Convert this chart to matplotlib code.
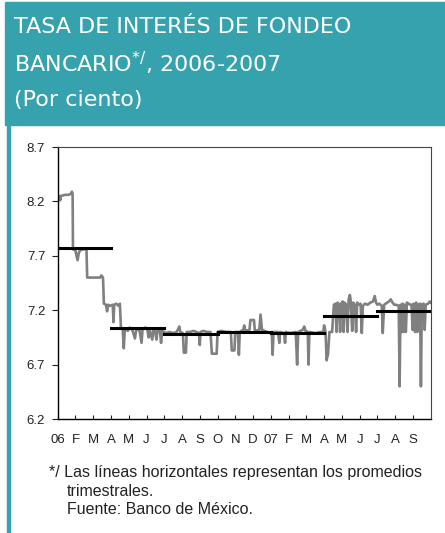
import matplotlib
matplotlib.use("Agg")
import matplotlib.pyplot as plt
from matplotlib.patches import Rectangle

plt.rcParams['font.family'] = ['Liberation Sans', 'DejaVu Sans']

# Daily funding rate path (x in months since Jan 2006, y in percent)
months = [
    0.00, 0.10, 0.14, 0.18, 0.40, 0.60, 0.75, 0.80, 0.84, 0.86,
    1.00, 1.06, 1.12, 1.18, 1.25, 1.45, 1.62, 1.66,
    2.00, 2.40, 2.46, 2.55, 2.60, 2.72, 2.78, 2.84, 2.95, 3.10, 3.14, 3.18,
    3.30, 3.42, 3.50, 3.56,
    3.66, 3.72, 3.78, 3.95, 4.05, 4.20, 4.35, 4.42, 4.60, 4.72, 4.78, 4.95,
    5.05, 5.12, 5.20, 5.32, 5.40, 5.50, 5.56, 5.62, 5.75, 5.82, 5.88, 6.00,
    6.10, 6.30, 6.50, 6.70, 6.85, 6.90, 7.05, 7.10, 7.22, 7.26, 7.45, 7.65,
    7.80, 7.95, 8.00, 8.04, 8.20, 8.40, 8.60, 8.68, 8.95, 9.00,
    9.20, 9.50, 9.75, 9.80, 9.95, 10.00, 10.15, 10.20, 10.25, 10.45, 10.50,
    10.55, 10.80, 10.85, 11.05, 11.10, 11.35, 11.42, 11.50, 11.80, 12.00,
    12.05, 12.10, 12.15, 12.40, 12.48, 12.52, 12.75, 12.80, 12.84, 13.10,
    13.40, 13.48, 13.54, 13.80, 13.88, 13.95, 14.08, 14.12, 14.17, 14.50,
    14.80, 14.95, 15.00, 15.08, 15.14, 15.22, 15.30, 15.45, 15.55,
    15.65, 15.70, 15.76, 15.85, 15.90, 15.95, 16.05, 16.10, 16.15, 16.25,
    16.32, 16.38, 16.45, 16.50, 16.58, 16.64, 16.72, 16.80, 16.86, 16.95,
    17.05, 17.12, 17.18, 17.30, 17.45, 17.60, 17.75, 17.85, 17.92, 18.00,
    18.10, 18.25, 18.30, 18.38, 18.55, 18.65, 18.75, 18.85, 18.95, 19.05,
    19.20, 19.25, 19.30, 19.36, 19.42, 19.48, 19.54, 19.60, 19.66, 19.75,
    19.85, 19.92, 19.98, 20.04, 20.12, 20.18, 20.25, 20.30, 20.40, 20.45,
    20.50, 20.60, 20.66, 20.72, 20.85, 20.95, 21.00,
]
rates = [
    8.25, 8.25, 8.21, 8.25, 8.26, 8.26, 8.27, 8.29, 8.27, 7.76,
    7.75, 7.70, 7.66, 7.72, 7.75, 7.76, 7.76, 7.50,
    7.50, 7.50, 7.52, 7.50, 7.26, 7.25, 7.19, 7.25, 7.24, 7.25, 7.09, 7.25,
    7.26, 7.24, 7.26, 7.04,
    7.03, 6.85, 7.03, 7.01, 7.04, 7.02, 6.94, 7.02, 7.02, 6.90, 7.03, 7.04,
    7.02, 6.95, 7.01, 6.93, 7.02, 7.00, 6.93, 7.01, 7.02, 6.90, 7.01, 7.00,
    6.99, 7.00, 6.99, 7.00, 7.05, 7.00, 6.99, 6.81, 6.81, 7.00, 7.00, 7.01,
    7.00, 6.99, 6.88, 7.00, 7.01, 7.00, 7.00, 6.80, 6.80, 7.00,
    7.01, 7.00, 7.00, 6.83, 6.83, 7.00, 7.00, 6.79, 7.00, 7.02, 7.06,
    7.01, 7.02, 7.11, 7.11, 7.01, 7.02, 7.16, 7.02, 7.00, 6.99,
    7.00, 6.79, 7.00, 7.00, 6.90, 7.00, 6.99, 6.90, 7.00, 6.99,
    7.00, 6.70, 7.00, 7.02, 7.05, 7.01, 7.00, 6.70, 7.00, 6.99,
    7.00, 7.00, 7.06, 7.00, 6.74, 6.80, 7.00, 7.00, 7.25,
    7.26, 7.00, 7.27, 7.25, 7.00, 7.26, 7.28, 7.00, 7.27, 7.25,
    7.00, 7.30, 7.34, 7.28, 7.01, 7.27, 7.25, 7.00, 7.27, 7.25,
    7.26, 6.99, 7.24, 7.26, 7.25, 7.27, 7.28, 7.33, 7.27, 7.25,
    7.26, 7.24, 6.99, 7.25, 7.27, 7.28, 7.30, 7.27, 7.25, 7.25,
    7.24, 6.50, 7.25, 7.00, 7.26, 7.00, 7.25, 7.00, 7.27, 7.26,
    7.25, 7.25, 7.02, 7.26, 7.00, 7.27, 7.00, 7.25, 7.26, 6.50,
    7.25, 7.26, 7.02, 7.25, 7.26, 7.28, 7.27,
]

# Quarterly averages
q_start = [0, 3, 6, 9, 12, 15, 18]
q_end = [3, 6, 9, 12, 15, 18, 21]
q_avg = [7.77, 7.04, 6.98, 7.00, 6.99, 7.15, 7.19]

month_labels = ['06', 'F', 'M', 'A', 'M', 'J', 'J', 'A', 'S', 'O', 'N', 'D',
                '07', 'F', 'M', 'A', 'M', 'J', 'J', 'A', 'S']
y_ticks = [6.2, 6.7, 7.2, 7.7, 8.2, 8.7]

W, H = 445, 533
teal = '#35a2ae'
fig = plt.figure(figsize=(W / 100, H / 100), dpi=100)

# header band and left border
fig.patches.append(Rectangle((5 / W, 1 - 125 / H), 1, 123 / H,
                             transform=fig.transFigure, color=teal, zorder=0))
fig.patches.append(Rectangle((7 / W, 0), 3 / W, 1 - 124 / H,
                             transform=fig.transFigure, color=teal, zorder=0))

title_kw = dict(color='white', fontsize=16, ha='left', va='baseline',
                family=['DejaVu Sans'])
fig.text(14 / W, 1 - 33 / H, 'TASA DE INTERÉS DE FONDEO', **title_kw)
fig.text(14 / W, 1 - 72 / H, 'BANCARIO$^{\\mathregular{*/}}$, 2006-2007', **title_kw)
fig.text(14 / W, 1 - 106 / H, '(Por ciento)', **title_kw)

ax = fig.add_axes([57.7 / W, 114 / H, 373 / W, 272 / H])
ax.plot(months, rates, color='#808080', lw=1.9, zorder=2)
for a, b, v in zip(q_start, q_end, q_avg):
    ax.plot([a, b], [v, v], color='black', lw=2.2, zorder=3)

ax.set_xlim(0, 21)
ax.set_ylim(6.2, 8.7)
ax.set_yticks(y_ticks)
ax.set_yticklabels([f'{v:.1f}' for v in y_ticks])
ax.set_xticks(range(len(month_labels)))
ax.set_xticklabels(month_labels)
ax.tick_params(axis='y', direction='out', length=4, width=0.8, pad=5,
               labelsize=9.5, colors='#222222')
ax.tick_params(axis='x', direction='in', length=3, width=0.8, pad=11,
               labelsize=9.5, colors='#222222')
for side in ['left', 'bottom']:
    ax.spines[side].set_color('black')
    ax.spines[side].set_linewidth(1.0)
for side in ['top', 'right']:
    ax.spines[side].set_color('#444444')
    ax.spines[side].set_linewidth(0.8)

foot_kw = dict(color='#222222', fontsize=11.5, ha='left', va='center')
fig.text(49 / W, 1 - 472 / H, '*/ Las líneas horizontales representan los promedios', **foot_kw)
fig.text(67 / W, 1 - 491 / H, 'trimestrales.', **foot_kw)
fig.text(67 / W, 1 - 510 / H, 'Fuente: Banco de México.', **foot_kw)

fig.savefig('out.png', dpi=100)
